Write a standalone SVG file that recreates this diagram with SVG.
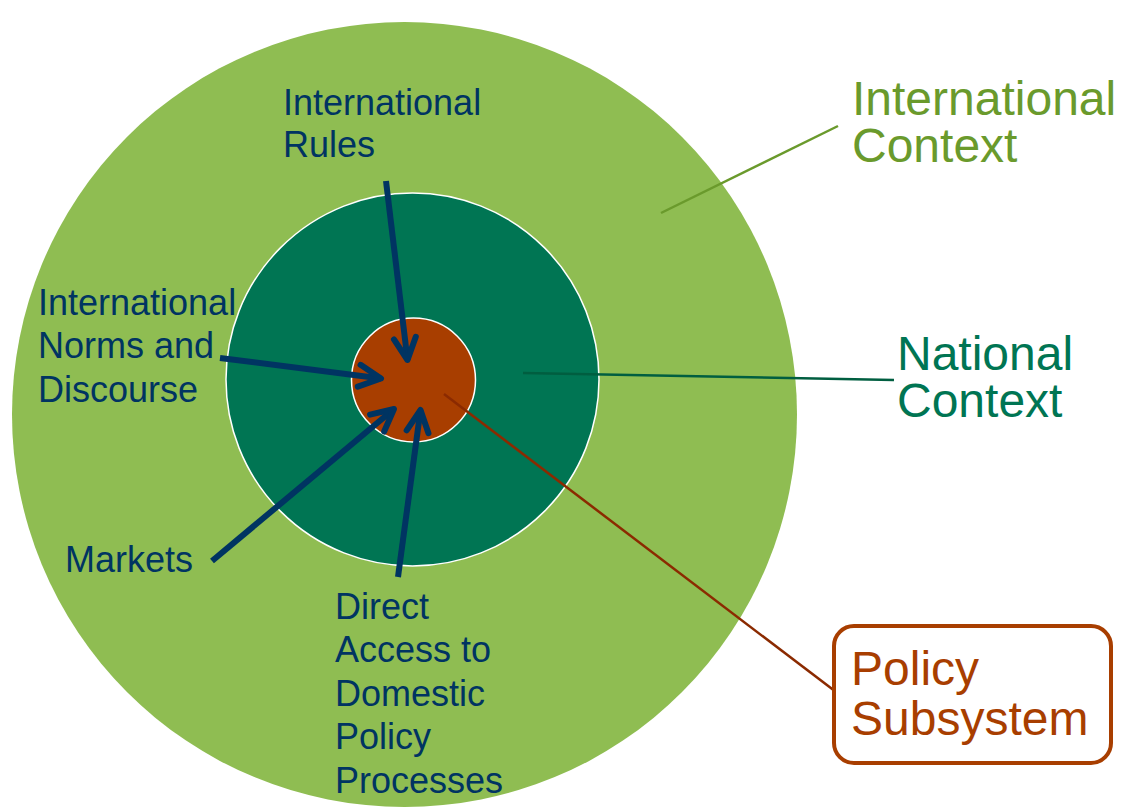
<svg xmlns="http://www.w3.org/2000/svg" width="1121" height="809" viewBox="0 0 1121 809">
<style>
.lbl{font-family:"Liberation Sans",Arial,sans-serif;font-size:36px;fill:#003462}
.big{font-family:"Liberation Sans",Arial,sans-serif;font-size:48px}
.arr{stroke:#003462;stroke-width:6;fill:none;marker-end:url(#chev)}
</style>
<defs>
<marker id="chev" markerUnits="userSpaceOnUse" markerWidth="60" markerHeight="60" refX="0" refY="0" orient="auto" overflow="visible">
<path d="M-22,-11 L0,0 L-22,11" fill="none" stroke="#003462" stroke-width="6" stroke-linecap="round" stroke-linejoin="round"/>
</marker>
</defs>
<rect width="1121" height="809" fill="#ffffff"/>
<g id="international-context">
<circle cx="404.5" cy="414.5" r="392.5" fill="#8FBD52"/>
</g>
<g id="national-context">
<circle cx="412.5" cy="379.5" r="186.5" fill="#007553" stroke="#ffffff" stroke-width="1.5"/>
</g>
<g id="policy-subsystem">
<circle cx="413.5" cy="380" r="62" fill="#A83E00" stroke="#ffffff" stroke-width="1.5"/>
</g>
<g id="connectors">
<line x1="661" y1="213" x2="838" y2="126" stroke="#6A9A2C" stroke-width="2.5"/>
<line x1="523" y1="373" x2="894" y2="380" stroke="#005E40" stroke-width="2.5"/>
<line x1="444" y1="394" x2="844" y2="698" stroke="#8B2A00" stroke-width="2.5"/>
<line class="arr" x1="386" y1="181" x2="407.5" y2="360"/>
<line class="arr" x1="220" y1="358" x2="381" y2="378.5"/>
<line class="arr" x1="212" y1="561" x2="394" y2="409"/>
<line class="arr" x1="398" y1="577" x2="420.5" y2="410"/>
</g>
<g id="label-international-rules">
<text class="lbl" x="283" y="115">International</text>
<text class="lbl" x="283" y="157">Rules</text>
</g>
<g id="label-norms">
<text class="lbl" x="38" y="315">International</text>
<text class="lbl" x="38" y="358">Norms and</text>
<text class="lbl" x="38" y="402">Discourse</text>
</g>
<g id="label-markets">
<text class="lbl" x="65" y="572">Markets</text>
</g>
<g id="label-direct-access">
<text class="lbl" x="335" y="619">Direct</text>
<text class="lbl" x="335" y="662">Access to</text>
<text class="lbl" x="335" y="706">Domestic</text>
<text class="lbl" x="335" y="749">Policy</text>
<text class="lbl" x="335" y="793">Processes</text>
</g>
<g id="label-international-context">
<text class="big" fill="#6A9A2C" x="852" y="115">International</text>
<text class="big" fill="#6A9A2C" x="852" y="162">Context</text>
</g>
<g id="label-national-context">
<text class="big" fill="#007553" x="897" y="370">National</text>
<text class="big" fill="#007553" x="897" y="417">Context</text>
</g>
<g id="label-policy-subsystem">
<rect x="834" y="626" width="277" height="137" rx="20" ry="20" fill="#ffffff" stroke="#A83E00" stroke-width="4"/>
<text class="big" fill="#A83E00" x="851" y="685">Policy</text>
<text class="big" fill="#A83E00" x="851" y="735">Subsystem</text>
</g>
</svg>
